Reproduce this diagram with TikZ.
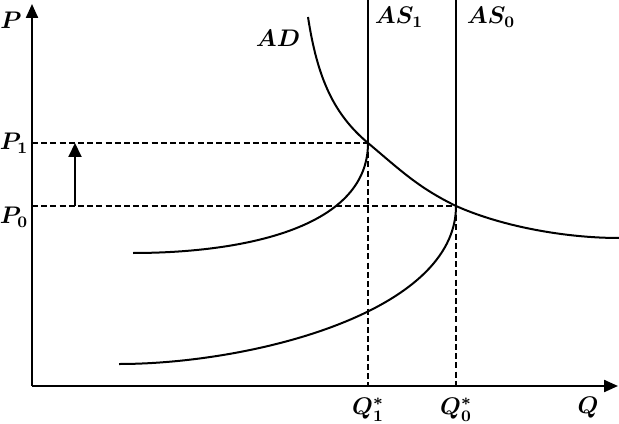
\documentclass[tikz,border=0pt]{standalone}
\usetikzlibrary{arrows.meta,positioning}

\tikzset{
  axis/.style={line width=1.1pt, -{Triangle[length=7pt,width=6pt]}},
  curve/.style={line width=1pt},
  guide/.style={line width=0.7pt, dash pattern=on 3pt off 1.6pt},
  lbl/.style={font=\large\boldmath, inner sep=1pt},
}

\begin{document}
\begin{tikzpicture}[x=0.5pt, y=0.5pt]
  \useasboundingbox (0,0) rectangle (619,423);
  % axes
  \coordinate (o) at (32,37);
  \coordinate (ptop) at (32,419);
  \coordinate (qend) at (618,37);
  \draw [axis] (o) -- (ptop);
  \draw [axis] (o) -- (qend);
  % equilibrium points and their projections
  \coordinate (e1) at (368,280);
  \coordinate (e0) at (456,217);
  \coordinate (p1) at (32,280);
  \coordinate (p0) at (32,217);
  \coordinate (q1) at (368,37);
  \coordinate (q0) at (456,37);
  \draw [guide] (p1) -- (e1);
  \draw [guide] (p0) -- (e0);
  \draw [guide] (e1) -- (q1);
  \draw [guide] (e0) -- (q0);
  % vertical AS lines
  \coordinate (as1top) at (368,423);
  \coordinate (as0top) at (456,423);
  \draw [curve] (as1top) -- (e1);
  \draw [curve] (as0top) -- (e0);
  % short-run curves
  \coordinate (s1start) at (133,170);
  \coordinate (s0start) at (119,59);
  \draw [curve] (s1start) .. controls (235,170) and (368,192) .. (e1);
  \draw [curve] (s0start) .. controls (250,59) and (456,110) .. (e0);
  % AD
  \coordinate (adtop) at (308,406);
  \coordinate (adend) at (619,185);
  \draw [curve] (adtop) .. controls (317.5,343.7) and (334.3,308.3) .. (e1)
    to[out=-40, in=154] (e0)
    to[out=-24, in=180, looseness=0.8] (adend);
  % price rise
  \coordinate (rise0) at (75,217);
  \coordinate (rise1) at (75,280);
  \draw [line width=1pt, -{Triangle[length=7pt,width=6.5pt]}] (rise0) -- (rise1);
  % labels
  \node [lbl] (plbl) at (11,403) {$P$};
  \node [lbl] (p1lbl) at (14,280) {$P_1$};
  \node [lbl] (p0lbl) at (14,206) {$P_0$};
  \node [lbl] (adlbl) at (278,385) {$AD$};
  \node [lbl] (as1lbl) at (399,406) {$AS_1$};
  \node [lbl] (as0lbl) at (491,406) {$AS_0$};
  \node [lbl] (q1lbl) at (368,13) {$Q^*_1$};
  \node [lbl] (q0lbl) at (456,13) {$Q^*_0$};
  \node [lbl] (qlbl) at (588,15) {$Q$};
\end{tikzpicture}
\end{document}
